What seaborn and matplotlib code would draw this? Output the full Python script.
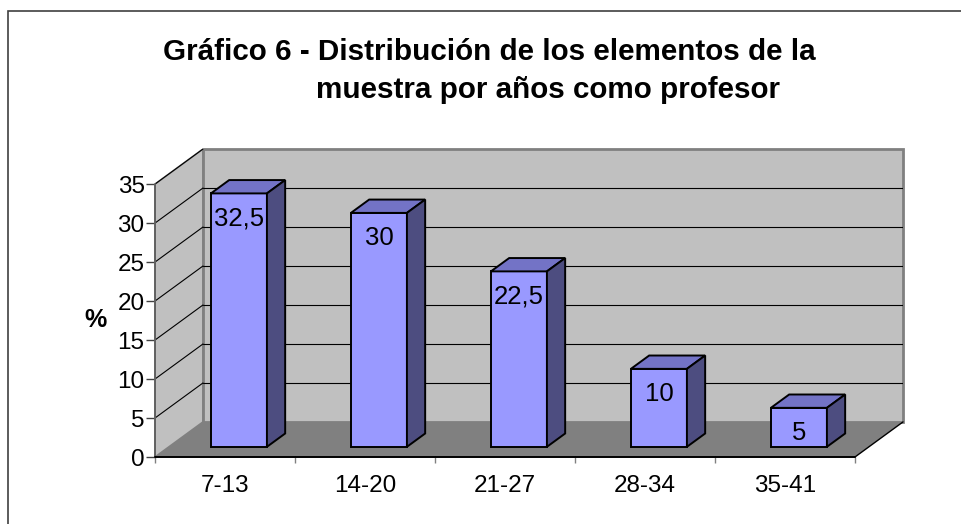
# plot.py
# Excel-style 3D column chart, redrawn with seaborn + a few matplotlib patches.

import numpy as np
import pandas as pd
import matplotlib
matplotlib.use("Agg")
import matplotlib.pyplot as plt
from matplotlib.patches import Polygon, Rectangle
import seaborn as sns

# ── data ──────────────────────────────────────────────────────────────────────
rangos      = ["7-13", "14-20", "21-27", "28-34", "35-41"]
porcentajes = [32.5, 30, 22.5, 10, 5]
y_ticks     = [0, 5, 10, 15, 20, 25, 30, 35]

titulo_1 = "Gráfico 6 - Distribución de los elementos de la"
titulo_2 = "muestra por años como profesor"

# ── 3D look ───────────────────────────────────────────────────────────────────
DX, DY = 0.343, 4.5      # depth of the box, in data units
F0, F1 = 0.29, 0.67      # front / back of the bars inside that depth
YMAX   = 35

BAR_FRONT = "#9999FF"
BAR_TOP   = "#7373C6"
BAR_SIDE  = "#4D4D80"
WALL      = "#C0C0C0"
FLOOR     = "#808080"
EDGE      = "#808080"

sns.set_theme(style="white", rc={"text.color": "black", "xtick.color": "black",
                                 "ytick.color": "black", "axes.labelcolor": "black"})
plt.rcParams["font.family"] = ["Liberation Sans", "DejaVu Sans"]

fig = plt.figure(figsize=(9.62, 5.24), dpi=100)
ax = fig.add_axes([155 / 962, 67 / 524, 748 / 962, 308 / 524])

df = pd.DataFrame({"rango": rangos, "pct": porcentajes})
n = len(rangos)
x0, x1 = -0.5, n - 0.5

# ── walls, floor, gridlines ──────────────────────────────────────────────────
ax.add_patch(Polygon([(x0, 0), (x1, 0), (x1 + DX, DY), (x0 + DX, DY)],
                     fc=FLOOR, ec="none", zorder=0))
ax.add_patch(Polygon([(x0, 0), (x0 + DX, DY), (x0 + DX, YMAX + DY), (x0, YMAX)],
                     fc=WALL, ec=EDGE, lw=1.2, zorder=0))
ax.add_patch(Rectangle((x0 + DX, DY), x1 - x0, YMAX, fc=WALL, ec=EDGE,
                       lw=2, zorder=0, clip_on=False))
for v in y_ticks[1:]:
    ax.plot([x0, x0 + DX], [v, v + DY], color="black", lw=0.8, zorder=1)
    if v < YMAX:
        ax.plot([x0 + DX, x1 + DX], [v + DY, v + DY], color="black", lw=0.8, zorder=1)

ax.plot([x0, x0], [0, YMAX], color="#606060", lw=1.4, zorder=2, clip_on=False)
ax.plot([x0, x1], [0, 0], color="black", lw=1.4, zorder=2, clip_on=False)
ax.plot([x1, x1 + DX], [0, DY], color="black", lw=1, zorder=2, clip_on=False)

# ── bars ──────────────────────────────────────────────────────────────────────
sns.barplot(data=df, x="rango", y="pct", color=BAR_FRONT, saturation=1,
            width=0.4, edgecolor="black", linewidth=1.4, ax=ax, zorder=3)

d = F1 - F0
for p, v in zip(ax.containers[0], porcentajes):
    p.set_x(p.get_x() + F0 * DX)
    p.set_y(F0 * DY)
    bx, by, bw, bh = p.get_x(), p.get_y(), p.get_width(), p.get_height()
    ax.add_patch(Polygon([(bx, by + bh), (bx + bw, by + bh),
                          (bx + bw + d * DX, by + bh + d * DY), (bx + d * DX, by + bh + d * DY)],
                         fc=BAR_TOP, ec="black", lw=1.4, zorder=3))
    ax.add_patch(Polygon([(bx + bw, by), (bx + bw + d * DX, by + d * DY),
                          (bx + bw + d * DX, by + bh + d * DY), (bx + bw, by + bh)],
                         fc=BAR_SIDE, ec="black", lw=1.4, zorder=3))
    ax.annotate(f"{v:g}".replace(".", ","), (bx + bw / 2, by + bh),
                xytext=(0, -18), textcoords="offset points",
                ha="center", va="center", fontsize=18.5, zorder=4)

# ── axes, ticks, labels ─────────────────────────────────────────────────────
ax.set_xlim(x0, x1 + DX)
ax.set_ylim(0, YMAX + DY)
for s in ax.spines.values():
    s.set_visible(False)

ax.set_yticks(y_ticks)
ax.tick_params(axis="y", left=True, direction="out", length=6.5, width=1,
               color="#404040", labelsize=17.5, pad=1)
ax.set_xticks(range(n))
ax.set_xticklabels(rangos)
ax.tick_params(axis="x", which="major", bottom=True, length=0, pad=13, labelsize=17.5)
ax.set_xticks(np.arange(n + 1) - 0.5, minor=True)
ax.tick_params(axis="x", which="minor", bottom=True, direction="out", length=4,
               width=1, color="#808080")

ax.set_xlabel("")
ax.set_ylabel("%", rotation=0, fontsize=18, fontweight="bold")
ax.yaxis.set_label_coords(-0.0802, 0.445)
ax.yaxis.label.set_verticalalignment("center")

fig.text(489 / 962, 1 - 60 / 524, titulo_1, ha="center", va="baseline",
         fontsize=21.3, fontweight="bold")
fig.text(548 / 962, 1 - 98 / 524, titulo_2, ha="center", va="baseline",
         fontsize=21.3, fontweight="bold")

# chart frame (only left and top edges fall inside the picture)
fig.add_artist(Rectangle((8 / 962, -0.1), 1.2, (524 - 11) / 524 + 0.1,
                         transform=fig.transFigure, fill=False,
                         ec="#404040", lw=1.2))

fig.savefig("out.png", dpi=100)
